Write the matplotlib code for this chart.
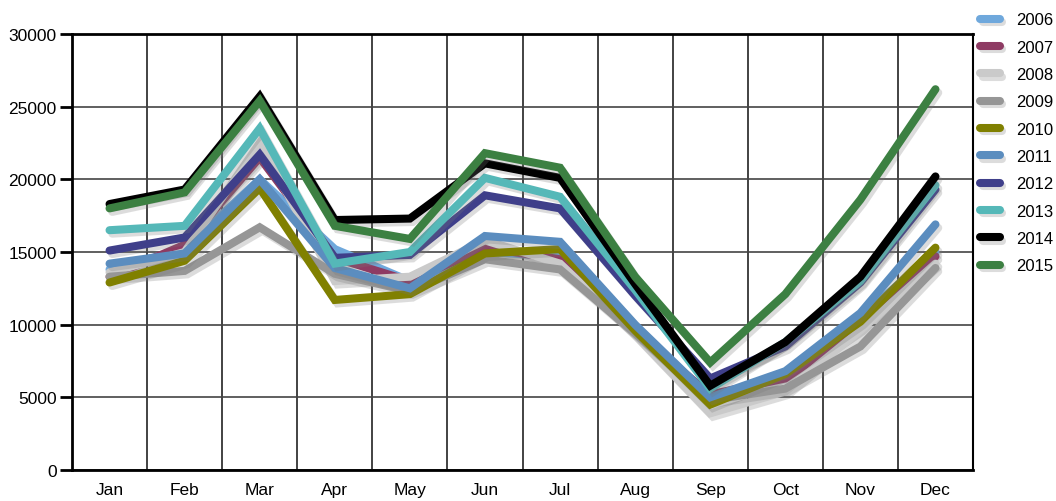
import matplotlib
matplotlib.use('Agg')
import matplotlib.pyplot as plt
import matplotlib.patheffects as pe

plt.rcParams['font.family'] = ['Liberation Sans', 'DejaVu Sans']

months = ['Jan', 'Feb', 'Mar', 'Apr', 'May', 'Jun', 'Jul', 'Aug', 'Sep', 'Oct', 'Nov', 'Dec']
years = ['2006', '2007', '2008', '2009', '2010', '2011', '2012', '2013', '2014', '2015']

# values (approximate)
v2006 = [13800, 15200, 20000, 15200, 13000, 15000, 14700, 9800, 5000, 6500, 10500, 15000]
v2007 = [13300, 15500, 21500, 14600, 13000, 15300, 14500, 9500, 5200, 6300, 9800, 14700]
v2008 = [13600, 15000, 22500, 13000, 13300, 15800, 14200, 9300, 3900, 5400, 9600, 14200]
v2009 = [13300, 13700, 16700, 13500, 12300, 14500, 13800, 9400, 4800, 5600, 8500, 13900]
v2010 = [12900, 14400, 19400, 11700, 12100, 14900, 15200, 9600, 4500, 6600, 10200, 15300]
v2011 = [14200, 14900, 20000, 13900, 12500, 16100, 15700, 10000, 5000, 6800, 10800, 16900]
v2012 = [15100, 16000, 21700, 14600, 14800, 18900, 18000, 12000, 6300, 8500, 12900, 19300]
v2013 = [16500, 16800, 23500, 14200, 15000, 20100, 18800, 12400, 5600, 8800, 13000, 19600]
v2014 = [18300, 19300, 25700, 17200, 17300, 21100, 20100, 12800, 5800, 8800, 13300, 20200]
v2015 = [18000, 19100, 25400, 16800, 15900, 21800, 20800, 13300, 7400, 12100, 18600, 26200]

series = [v2006, v2007, v2008, v2009, v2010, v2011, v2012, v2013, v2014, v2015]
colors = ['#6fa8dc', '#8e3b63', '#cacaca', '#969696', '#808000',
          '#5b8dbf', '#3f3f8a', '#55b8b8', '#000000', '#3c8042']

fig = plt.figure(figsize=(10.56, 5.02), dpi=100)
ax = fig.add_axes([72 / 1056, 31 / 502, 901 / 1056, 436 / 502])

x = [i + 0.5 for i in range(len(months))]
# soft drop shadow under every line
shadow = [pe.SimpleLineShadow(offset=(2, -2.5), shadow_color='#777777', alpha=0.25),
          pe.Normal()]

for vals, year, col in zip(series, years, colors):
    ax.plot(x, vals, color=col, lw=5.8, solid_capstyle='round',
            solid_joinstyle='miter', label=year, path_effects=shadow)

ax.set_xlim(0, 12)
ax.set_ylim(0, 30000)
ax.set_xticks(x)
ax.set_xticklabels(months)
ax.set_xticks(range(13), minor=True)
ax.set_yticks(range(0, 30001, 5000))

ax.grid(True, axis='y', which='major', color='#444444', lw=1.2)
ax.grid(True, axis='x', which='minor', color='#222222', lw=1.2)
ax.set_axisbelow(True)

ax.tick_params(axis='x', which='both', length=0, labelsize=12.5, pad=9)
ax.tick_params(axis='y', which='major', length=9, width=2, labelsize=12.5, pad=2)

for side in ['left', 'bottom', 'top']:
    ax.spines[side].set_linewidth(2)
ax.spines['right'].set_linewidth(1.5)

fig.legend(loc='upper left', bbox_to_anchor=(977 / 1056, 0.98), frameon=False,
           fontsize=12, labelspacing=0.74, handlelength=1.15, handletextpad=0.97,
           borderaxespad=0, borderpad=0.2)

plt.savefig('out.png', dpi=100)
